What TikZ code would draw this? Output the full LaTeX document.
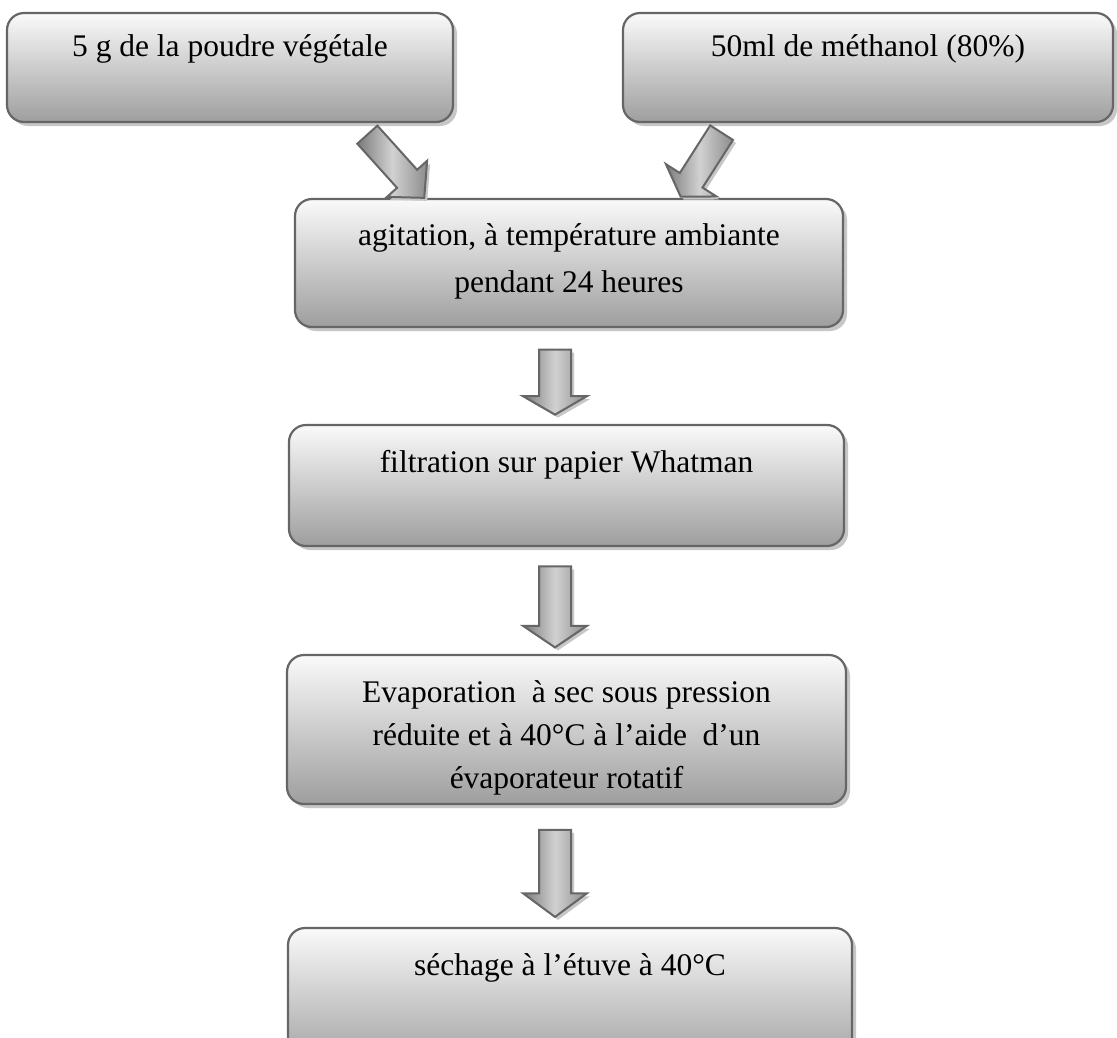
\documentclass[tikz,border=0pt]{standalone}
\usepackage{fontspec}
\setmainfont{Liberation Serif}
\usetikzlibrary{shapes.arrows,shadows}
\begin{document}
\begin{tikzpicture}[x=1pt,y=-1pt,
  stepbox/.style={draw=black!60, line width=2.2pt, rounded corners=17pt,
    top color=black!2, bottom color=black!38,
    drop shadow={shadow xshift=4pt, shadow yshift=-4pt, fill=black!22, opacity=1}},
  lbl/.style={font=\fontsize{31.5}{40}\selectfont, anchor=base, inner sep=0pt},
  barrow/.style={single arrow, draw=black!60, line width=2pt, inner xsep=0pt,
    single arrow head indent=0pt,
    left color=black!52, right color=black!45, middle color=black!18,
    drop shadow={shadow xshift=3pt, shadow yshift=-3pt, fill=black!22, opacity=1}}
]
\useasboundingbox (0,0) rectangle (1117,1037);
\fill[white] (0,0) rectangle (1117,1037);

% boxes
\node[stepbox, minimum width=446, minimum height=109] (A) at (230,67.5) {};
\node[stepbox, minimum width=490, minimum height=109] (B) at (868,67.5) {};
\node[stepbox, minimum width=548, minimum height=128] (C) at (569,263) {};
\node[stepbox, minimum width=555, minimum height=121] (D) at (566.5,485.5) {};
\node[stepbox, minimum width=559, minimum height=149] (E) at (566.5,729.5) {};
\node[stepbox, minimum width=564, minimum height=142] (F) at (570,999) {};

% texts
\node[lbl] (tA) at (230,56) {5 g de la poudre végétale};
\node[lbl] (tB) at (868,56) {50ml de méthanol (80\%)};
\node[lbl] (tC1) at (569,245) {agitation, à température ambiante};
\node[lbl] (tC2) at (569,292) {pendant 24 heures};
\node[lbl] (tD) at (566.5,472) {filtration sur papier Whatman};
\node[lbl] (tE1) at (566.5,702) {Evaporation\ \ à sec sous pression};
\node[lbl] (tE2) at (566.5,745) {réduite et à 40°C à l’aide\ \ d’un};
\node[lbl] (tE3) at (566.5,788) {évaporateur rotatif};
\node[lbl] (tF) at (570,975) {séchage à l’étuve à 40°C};

% block arrows
\node[barrow, inner ysep=12.5pt, single arrow head extend=13.5pt, minimum height=85pt,
  single arrow tip angle=93, rotate=-48] (aAC) at (391.5,161.5) {};
\node[barrow, inner ysep=12.5pt, single arrow head extend=16.5pt, minimum height=76pt,
  single arrow tip angle=114, rotate=-122.6] (aBC) at (703.5,161) {};
\node[barrow, inner ysep=15pt, single arrow head extend=16pt, minimum height=65pt,
  single arrow tip angle=120, rotate=-90] (aCD) at (555,377.5) {};
\node[barrow, inner ysep=15pt, single arrow head extend=16pt, minimum height=81pt,
  single arrow tip angle=112, rotate=-90] (aDE) at (555,601.5) {};
\node[barrow, inner ysep=15pt, single arrow head extend=16pt, minimum height=87pt,
  single arrow tip angle=107, rotate=-90] (aEF) at (555,867.5) {};
\end{tikzpicture}
\end{document}
